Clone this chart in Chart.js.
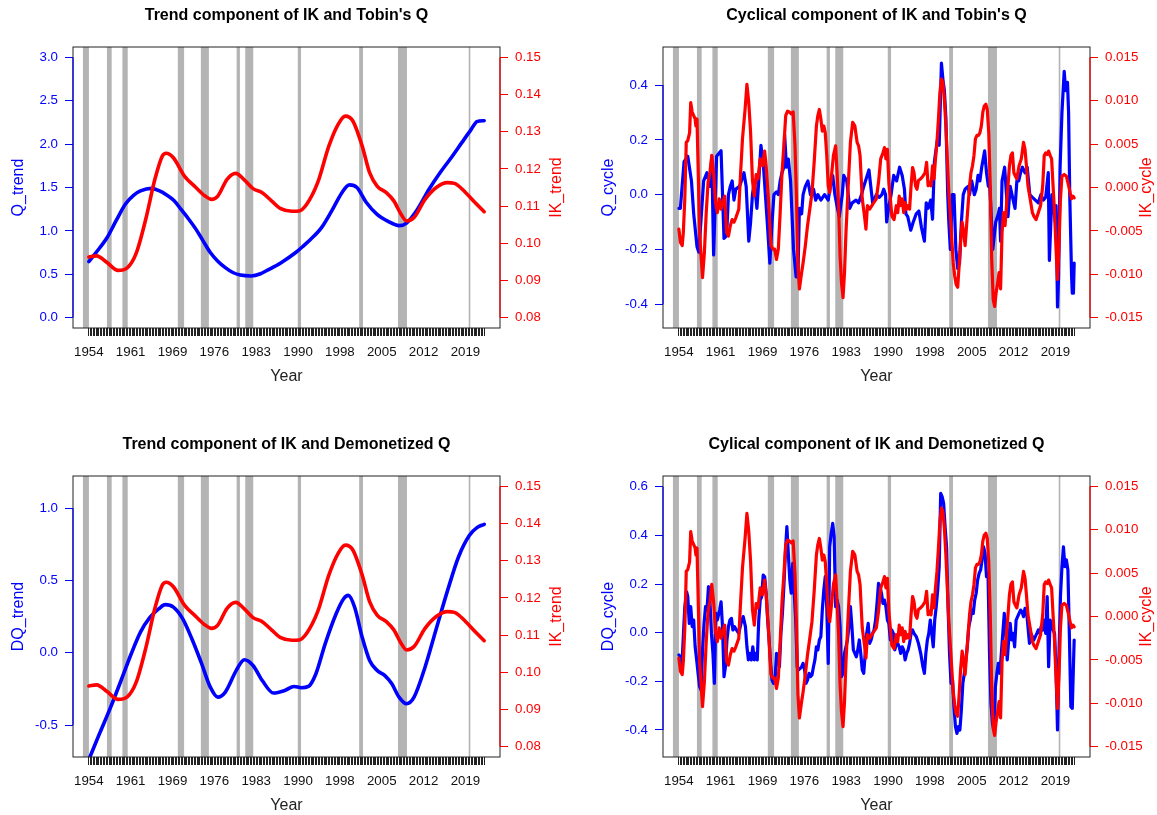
<!DOCTYPE html>
<html><head><meta charset="utf-8">
<script src="https://cdn.jsdelivr.net/npm/chart.js@4.4.1/dist/chart.umd.min.js"></script>
<style>
html,body{margin:0;padding:0;background:#fff;}
#wrap{position:relative;width:1157px;height:815px;overflow:hidden;background:#fff;}
#wrap canvas{position:absolute;left:0;top:0;}
</style></head><body><div id="wrap">
<canvas id="c1" width="1157" height="815"></canvas>
<canvas id="c2" width="1157" height="815"></canvas>
<canvas id="c3" width="1157" height="815"></canvas>
<canvas id="c4" width="1157" height="815"></canvas>
</div>
<script>
// ---------- DATA (year, value) ----------
const xTickLabels = ['1954','1961','1969','1976','1983','1990','1998','2005','2012','2019'];
const firstQuarter = 1954.25, lastQuarter = 2022.75;

const recessionStart = [1953.23,1957.39,1960.07,1969.67,1973.66,1979.86,1981.35,1990.45,2001.09,2007.81,2020.07];
const recessionEnd   = [1954.27,1958.21,1960.99,1970.76,1975.05,1980.43,1982.74,1991.02,2001.75,2009.37,2020.35];

const qTrend = [[1954.25,0.645],[1955.5,0.75],[1957.4,0.92],[1959,1.12],[1960.6,1.31],[1962,1.41],[1963.2,1.46],[1965.1,1.49],[1966.5,1.46],[1967.6,1.42],[1969,1.35],[1970.2,1.25],[1971.5,1.14],[1972.8,1.02],[1974,0.89],[1975.3,0.75],[1976.6,0.65],[1977.9,0.576],[1979.2,0.52],[1980.5,0.49],[1982.4,0.48],[1984,0.505],[1985,0.54],[1987.5,0.63],[1990.1,0.75],[1991.5,0.83],[1992.65,0.90],[1994.6,1.04],[1996.5,1.25],[1998.1,1.44],[1999.4,1.53],[2000.7,1.50],[2002.3,1.33],[2004.2,1.19],[2006.1,1.11],[2008,1.06],[2009.3,1.09],[2011.2,1.25],[2013.2,1.48],[2015.1,1.67],[2017,1.84],[2018.9,2.02],[2020.5,2.17],[2021.5,2.26],[2022.75,2.27]];

const ikTrend = [[1954.25,0.0963],[1955.6,0.0966],[1957.4,0.0948],[1959.3,0.0927],[1960.9,0.0934],[1962.5,0.0975],[1964.1,0.1064],[1965.7,0.1172],[1967,0.1235],[1967.65,0.1242],[1968.9,0.123],[1970.85,0.118],[1972.8,0.115],[1974.4,0.1127],[1975.5,0.1118],[1976.6,0.1127],[1978.2,0.1172],[1979.7,0.1188],[1981.1,0.1172],[1982.7,0.1147],[1984.3,0.1136],[1985.9,0.1114],[1987.5,0.1093],[1989.45,0.1086],[1990.7,0.1087],[1992,0.1105],[1993.9,0.1163],[1995.85,0.1262],[1997.45,0.132],[1998.7,0.1342],[2000,0.1329],[2001.6,0.1262],[2002.9,0.119],[2004.2,0.1154],[2005.8,0.1136],[2007.1,0.1114],[2008.35,0.1078],[2009.3,0.106],[2010.6,0.1069],[2012.5,0.1118],[2014.45,0.115],[2016.4,0.1163],[2017.6,0.1161],[2019.55,0.1136],[2021.2,0.1109],[2022.75,0.1085]];

const dqTrend = [[1954.25,-0.74],[1956.1,-0.56],[1958,-0.38],[1959.95,-0.18],[1961.6,-0.007],[1963.2,0.143],[1964.8,0.243],[1966.4,0.305],[1967.5,0.333],[1968.9,0.316],[1970.5,0.236],[1972.1,0.097],[1973.7,-0.065],[1975.3,-0.238],[1976.6,-0.307],[1977.9,-0.272],[1979.8,-0.122],[1981.2,-0.048],[1982.7,-0.088],[1984.3,-0.192],[1986.25,-0.279],[1988.2,-0.261],[1989.8,-0.233],[1991.05,-0.242],[1992.3,-0.233],[1993.6,-0.145],[1995.2,0.062],[1997.1,0.27],[1998.4,0.374],[1999.2,0.397],[2000.3,0.316],[2001.6,0.109],[2002.9,-0.053],[2004.2,-0.122],[2005.5,-0.157],[2006.75,-0.215],[2008,-0.307],[2009.3,-0.353],[2010.6,-0.307],[2012.5,-0.1],[2014.45,0.166],[2016.4,0.43],[2018.3,0.663],[2020.2,0.813],[2021.5,0.866],[2022.75,0.889]];

const qCycle = [[1954.26,-0.05],[1954.52,-0.05],[1955.16,0.12],[1955.8,0.14],[1956.44,0.05],[1956.83,-0.07],[1957.4,-0.19],[1957.72,-0.21],[1958.55,0.05],[1959.13,0.08],[1959.64,0.03],[1959.96,0.14],[1960.28,-0.22],[1960.8,0.14],[1961.57,0.16],[1962.08,-0.16],[1962.53,-0.15],[1962.85,0.0],[1963.17,0.03],[1963.49,0.05],[1963.81,-0.02],[1964.13,0.02],[1964.77,0.03],[1965.09,0.05],[1965.54,0.08],[1965.92,0.03],[1966.37,-0.17],[1966.69,-0.1],[1967.01,0.0],[1967.33,0.05],[1967.78,-0.05],[1968.1,0.05],[1968.48,0.18],[1968.93,0.1],[1969.25,0.0],[1969.57,-0.1],[1970.02,-0.25],[1970.41,-0.1],[1970.73,0.0],[1971.17,0.01],[1971.49,0.0],[1971.81,0.05],[1972.13,0.08],[1972.45,0.1],[1972.58,0.22],[1972.9,0.1],[1973.22,0.13],[1973.61,0.05],[1974.12,-0.2],[1974.57,-0.3],[1974.89,-0.3],[1975.14,-0.05],[1975.53,-0.07],[1975.78,0.0],[1976.17,0.03],[1976.62,0.05],[1977.06,0.0],[1977.58,0.02],[1977.96,-0.02],[1978.34,0.0],[1978.86,-0.02],[1979.5,0.0],[1980.14,-0.02],[1980.65,0.05],[1980.91,0.07],[1981.29,0.0],[1981.74,-0.05],[1982.06,-0.08],[1982.57,0.0],[1982.83,0.07],[1983.34,0.05],[1983.86,-0.05],[1984.3,-0.03],[1984.95,-0.02],[1985.4,-0.03],[1985.91,0.0],[1986.29,0.03],[1987.19,0.09],[1987.51,0.03],[1987.83,-0.03],[1988.47,0.0],[1988.98,-0.01],[1989.43,0.0],[1989.75,0.02],[1990.07,0.0],[1990.26,-0.1],[1990.58,-0.05],[1991.03,0.0],[1991.48,0.07],[1991.99,0.05],[1992.5,0.1],[1992.95,0.07],[1993.34,0.02],[1993.59,-0.07],[1993.91,-0.08],[1994.43,-0.13],[1994.87,-0.1],[1995.39,-0.07],[1995.84,-0.06],[1996.29,-0.12],[1996.8,-0.17],[1997.12,-0.03],[1997.44,-0.05],[1997.89,-0.02],[1998.21,-0.09],[1998.53,0.12],[1999.04,0.2],[1999.36,0.18],[1999.75,0.48],[2000.01,0.42],[2000.26,0.38],[2000.52,0.28],[2000.84,0.0],[2001.03,-0.1],[2001.29,-0.2],[2001.61,0.0],[2001.93,0.0],[2002.25,-0.2],[2002.57,-0.27],[2002.89,-0.25],[2003.21,-0.1],[2003.53,0.0],[2003.85,0.02],[2004.36,0.03],[2004.62,0.0],[2005.0,0.05],[2005.45,0.0],[2005.77,0.02],[2006.09,0.07],[2006.41,0.05],[2006.73,0.1],[2007.24,0.16],[2007.56,0.08],[2007.88,0.03],[2008.14,0.03],[2008.65,-0.2],[2009.16,-0.1],[2009.61,-0.07],[2009.8,-0.05],[2010.0,-0.17],[2010.25,0.05],[2010.7,0.1],[2011.02,0.0],[2011.28,-0.08],[2011.66,0.03],[2012.18,-0.02],[2012.5,-0.05],[2012.82,0.05],[2013.14,0.05],[2013.46,0.08],[2013.78,0.1],[2014.23,0.08],[2014.61,0.1],[2015.06,0.0],[2015.51,-0.01],[2016.02,-0.02],[2016.53,-0.03],[2016.98,0.0],[2017.43,-0.02],[2017.81,-0.01],[2018.26,0.08],[2018.45,-0.24],[2018.9,0.0],[2019.22,-0.05],[2019.48,-0.1],[2019.61,-0.04],[2019.86,-0.41],[2020.05,-0.3],[2020.31,0.1],[2020.63,0.3],[2021.02,0.45],[2021.27,0.38],[2021.59,0.41],[2021.78,0.3],[2021.98,0.0],[2022.3,-0.3],[2022.42,-0.36],[2022.62,-0.36],[2022.75,-0.25]];

const ikCycle = [[1954.26,-0.0048],[1954.52,-0.0063],[1954.84,-0.0067],[1955.03,-0.0052],[1955.29,-0.0013],[1955.54,0.0052],[1955.8,0.0054],[1956.12,0.0063],[1956.31,0.0098],[1956.57,0.0087],[1956.83,0.0083],[1957.08,0.0079],[1957.21,0.0071],[1957.4,0.0079],[1957.59,0.0025],[1957.85,-0.0052],[1958.11,-0.0079],[1958.36,-0.0104],[1958.68,-0.0075],[1959.0,-0.0029],[1959.32,0.0006],[1959.64,0.0017],[1959.96,0.0037],[1960.28,0.0017],[1960.6,-0.0017],[1960.93,-0.0029],[1961.25,-0.0013],[1961.57,-0.0025],[1961.89,-0.0017],[1962.21,-0.001],[1962.53,-0.0052],[1962.85,-0.0056],[1963.17,-0.0044],[1963.49,-0.0037],[1963.81,-0.004],[1964.13,-0.0035],[1964.64,-0.0025],[1964.9,0.001],[1965.28,0.0056],[1965.73,0.009],[1966.05,0.0119],[1966.37,0.0098],[1966.69,0.0063],[1967.01,0.0008],[1967.33,-0.001],[1967.65,0.0015],[1967.97,0.001],[1968.35,0.0033],[1968.74,0.0025],[1969.12,0.0042],[1969.38,0.0025],[1969.77,-0.0013],[1970.21,-0.0067],[1970.53,-0.0071],[1970.85,-0.0071],[1971.17,-0.0083],[1971.49,-0.0071],[1971.81,-0.0029],[1972.13,0.0017],[1972.45,0.0048],[1972.77,0.0083],[1973.09,0.0088],[1973.42,0.0087],[1973.73,0.0085],[1974.06,0.0087],[1974.38,0.0048],[1974.63,-0.001],[1974.89,-0.009],[1975.14,-0.0117],[1975.53,-0.0098],[1975.78,-0.0087],[1976.17,-0.0067],[1976.55,-0.0044],[1976.94,-0.0025],[1977.32,-0.0006],[1977.7,0.0029],[1978.09,0.0071],[1978.34,0.0083],[1978.6,0.009],[1978.86,0.0079],[1979.11,0.0065],[1979.37,0.0071],[1979.62,0.0063],[1979.88,0.0037],[1980.14,0.0002],[1980.39,-0.0006],[1980.65,0.001],[1981.04,0.0037],[1981.42,0.0048],[1981.67,0.0017],[1981.93,-0.0021],[1982.19,-0.0079],[1982.44,-0.011],[1982.7,-0.0127],[1982.96,-0.0098],[1983.21,-0.0052],[1983.6,0.0002],[1983.98,0.0052],[1984.37,0.0075],[1984.75,0.0071],[1985.14,0.0052],[1985.4,0.0048],[1985.65,0.0037],[1986.03,-0.0013],[1986.42,-0.0033],[1986.67,-0.0048],[1986.93,-0.0021],[1987.31,-0.0025],[1987.7,-0.0021],[1988.08,-0.0017],[1988.47,-0.0013],[1988.85,0.0006],[1989.23,0.0033],[1989.62,0.004],[1989.88,0.0046],[1990.13,0.0033],[1990.39,0.0044],[1990.64,0.0006],[1990.9,-0.0013],[1991.16,-0.0033],[1991.54,-0.0037],[1991.93,-0.0021],[1992.18,-0.0029],[1992.44,-0.001],[1992.69,-0.0021],[1992.95,-0.0013],[1993.21,-0.0029],[1993.46,-0.0017],[1993.72,-0.0025],[1993.98,-0.0021],[1994.23,-0.0025],[1994.49,0.0002],[1994.75,0.0023],[1995.0,0.0017],[1995.26,0.0002],[1995.51,-0.0002],[1995.77,0.0008],[1996.16,0.001],[1996.54,0.0013],[1996.92,0.0017],[1997.18,0.0029],[1997.44,0.0002],[1997.69,0.0006],[1997.95,0.0002],[1998.21,0.0025],[1998.46,0.001],[1998.72,0.0033],[1998.98,0.0052],[1999.23,0.0079],[1999.49,0.011],[1999.75,0.0125],[2000.01,0.0121],[2000.26,0.0102],[2000.52,0.0071],[2000.77,0.0033],[2001.03,-0.0006],[2001.29,-0.0033],[2001.54,-0.006],[2001.8,-0.0087],[2002.05,-0.0102],[2002.31,-0.0112],[2002.57,-0.0115],[2002.82,-0.009],[2003.08,-0.006],[2003.34,-0.004],[2003.6,-0.0052],[2003.85,-0.0067],[2004.11,-0.0044],[2004.36,-0.0021],[2004.62,0.0002],[2004.87,0.0017],[2005.13,0.0025],[2005.39,0.0037],[2005.64,0.0056],[2005.9,0.006],[2006.16,0.006],[2006.41,0.0063],[2006.67,0.0071],[2006.92,0.0087],[2007.18,0.0094],[2007.44,0.0096],[2007.69,0.009],[2007.95,0.0063],[2008.21,0.0002],[2008.46,-0.0083],[2008.72,-0.0129],[2008.97,-0.0137],[2009.23,-0.0121],[2009.49,-0.011],[2009.74,-0.0098],[2010.0,-0.0117],[2010.25,-0.0052],[2010.51,-0.0029],[2010.77,-0.0044],[2011.02,-0.0021],[2011.28,0.0002],[2011.53,0.0025],[2011.79,0.0037],[2012.05,0.004],[2012.3,0.0017],[2012.56,0.0013],[2012.82,0.001],[2013.2,0.0025],[2013.59,0.0033],[2013.97,0.0052],[2014.23,0.0044],[2014.48,0.0025],[2014.74,0.0002],[2015.12,-0.0013],[2015.51,-0.0029],[2015.76,-0.0033],[2016.15,-0.0037],[2016.53,-0.0029],[2016.92,-0.0021],[2017.3,0.0002],[2017.56,0.0037],[2017.81,0.004],[2018.07,0.0038],[2018.32,0.0042],[2018.58,0.0037],[2018.84,0.0033],[2019.09,0.0002],[2019.35,-0.0029],[2019.61,-0.0071],[2019.86,-0.0106],[2020.12,-0.0067],[2020.37,-0.0013],[2020.63,0.0013],[2021.02,0.0015],[2021.4,0.0013],[2021.78,0.0002],[2022.04,-0.0006],[2022.3,-0.0013],[2022.55,-0.001],[2022.75,-0.0012]];

const dqCycle = [[1954.26,-0.092],[1954.52,-0.099],[1954.78,-0.14],[1955.03,-0.016],[1955.29,0.107],[1955.61,0.168],[1955.8,0.148],[1956.06,0.038],[1956.31,0.107],[1956.57,0.025],[1956.83,0.052],[1957.08,-0.058],[1957.34,-0.112],[1957.59,-0.167],[1957.85,-0.222],[1958.11,-0.236],[1958.36,-0.071],[1958.62,0.038],[1958.88,0.107],[1959.13,0.093],[1959.39,0.189],[1959.64,0.134],[1959.9,-0.003],[1960.16,-0.085],[1960.41,-0.208],[1960.67,0.079],[1960.93,0.052],[1961.31,0.093],[1961.57,0.127],[1961.82,0.025],[1962.08,-0.181],[1962.33,-0.14],[1962.59,-0.03],[1962.85,0.025],[1963.1,0.052],[1963.36,0.059],[1963.62,0.011],[1963.87,0.025],[1964.26,0.011],[1964.64,-0.003],[1965.02,0.038],[1965.41,0.066],[1965.79,0.025],[1966.05,-0.058],[1966.3,-0.112],[1966.56,-0.085],[1966.82,-0.112],[1967.07,-0.058],[1967.33,-0.112],[1967.59,-0.085],[1967.84,-0.112],[1968.1,0.052],[1968.35,0.134],[1968.61,0.148],[1968.87,0.237],[1969.12,0.23],[1969.38,0.162],[1969.64,0.052],[1969.89,-0.03],[1970.15,-0.126],[1970.4,-0.195],[1970.66,-0.208],[1970.92,-0.195],[1971.17,-0.085],[1971.43,-0.112],[1971.68,-0.14],[1971.94,-0.003],[1972.2,0.079],[1972.45,0.189],[1972.71,0.326],[1972.97,0.436],[1973.22,0.326],[1973.48,0.216],[1973.73,0.162],[1973.99,0.285],[1974.25,0.162],[1974.5,0.052],[1974.76,-0.14],[1975.01,-0.153],[1975.27,-0.147],[1975.53,-0.14],[1975.78,-0.126],[1976.04,-0.153],[1976.29,-0.208],[1976.55,-0.195],[1976.81,-0.167],[1977.06,-0.181],[1977.32,-0.174],[1977.58,-0.14],[1977.83,-0.112],[1978.09,-0.058],[1978.34,-0.071],[1978.6,-0.03],[1978.86,-0.016],[1979.11,0.093],[1979.37,0.175],[1979.62,0.23],[1979.88,0.107],[1980.14,-0.126],[1980.39,0.353],[1980.65,0.408],[1980.91,0.449],[1981.16,0.395],[1981.42,0.107],[1981.67,0.134],[1981.93,0.107],[1982.19,0.025],[1982.44,-0.181],[1982.7,-0.167],[1982.96,-0.085],[1983.21,-0.058],[1983.47,-0.03],[1983.72,0.025],[1983.98,0.107],[1984.24,0.025],[1984.49,-0.071],[1984.75,-0.085],[1985.01,-0.099],[1985.26,-0.071],[1985.52,-0.03],[1985.77,-0.085],[1986.03,-0.153],[1986.29,-0.167],[1986.54,-0.085],[1986.8,-0.003],[1987.06,0.038],[1987.31,-0.044],[1987.57,-0.03],[1987.83,-0.003],[1988.08,0.011],[1988.34,0.052],[1988.59,0.12],[1988.85,0.203],[1989.11,0.189],[1989.36,0.162],[1989.62,0.12],[1989.88,0.134],[1990.13,0.107],[1990.39,0.052],[1990.64,0.038],[1990.9,-0.03],[1991.16,0.011],[1991.41,-0.003],[1991.67,-0.071],[1991.93,-0.044],[1992.18,-0.044],[1992.44,-0.058],[1992.69,-0.085],[1992.95,-0.058],[1993.21,-0.071],[1993.46,-0.112],[1993.72,-0.085],[1993.98,-0.071],[1994.23,-0.044],[1994.49,-0.003],[1994.75,0.011],[1995.0,-0.003],[1995.39,-0.016],[1995.77,-0.044],[1996.16,-0.085],[1996.54,-0.14],[1996.8,-0.167],[1997.05,-0.085],[1997.31,-0.03],[1997.56,-0.003],[1997.82,0.052],[1998.08,-0.003],[1998.33,-0.058],[1998.59,0.052],[1998.85,0.107],[1999.1,0.175],[1999.36,0.271],[1999.62,0.573],[1999.87,0.559],[2000.13,0.532],[2000.38,0.436],[2000.64,0.353],[2000.9,0.107],[2001.15,-0.085],[2001.41,-0.208],[2001.67,-0.195],[2001.92,-0.304],[2002.18,-0.386],[2002.44,-0.414],[2002.69,-0.386],[2002.95,-0.4],[2003.2,-0.318],[2003.46,-0.208],[2003.72,-0.167],[2003.97,-0.112],[2004.23,-0.058],[2004.49,0.025],[2004.74,0.052],[2005.0,0.093],[2005.26,0.079],[2005.51,0.134],[2005.77,0.162],[2006.02,0.216],[2006.28,0.244],[2006.54,0.258],[2006.79,0.299],[2007.05,0.353],[2007.31,0.326],[2007.56,0.23],[2007.82,0.244],[2008.08,-0.085],[2008.33,-0.29],[2008.59,-0.373],[2008.84,-0.4],[2009.1,-0.222],[2009.36,-0.167],[2009.61,-0.126],[2009.87,-0.167],[2010.13,-0.085],[2010.38,-0.003],[2010.64,0.079],[2010.9,-0.003],[2011.15,-0.112],[2011.41,-0.03],[2011.66,0.038],[2011.92,-0.03],[2012.18,-0.003],[2012.43,-0.058],[2012.69,0.052],[2012.95,0.066],[2013.2,0.079],[2013.46,0.093],[2013.71,0.086],[2013.97,0.066],[2014.23,0.1],[2014.48,0.093],[2014.74,0.025],[2015.0,-0.044],[2015.25,-0.003],[2015.51,-0.016],[2015.76,-0.03],[2016.02,-0.016],[2016.28,-0.003],[2016.53,0.011],[2016.79,-0.003],[2017.04,0.025],[2017.3,0.011],[2017.56,0.052],[2017.81,-0.003],[2018.07,0.148],[2018.32,-0.14],[2018.58,0.052],[2018.84,0.038],[2019.09,0.011],[2019.35,-0.003],[2019.61,-0.153],[2019.86,-0.4],[2020.12,-0.085],[2020.37,0.148],[2020.63,0.271],[2020.89,0.353],[2021.14,0.271],[2021.4,0.299],[2021.66,0.258],[2021.91,-0.003],[2022.17,-0.304],[2022.42,-0.311],[2022.68,-0.085],[2022.75,-0.03]];

const ticksQTrend  = [0, 0.5, 1, 1.5, 2, 2.5, 3];
const ticksIKTrend = [0.08, 0.09, 0.10, 0.11, 0.12, 0.13, 0.14, 0.15];
const ticksQCycle  = [-0.4, -0.2, 0, 0.2, 0.4];
const ticksIKCycle = [-0.015, -0.010, -0.005, 0, 0.005, 0.010, 0.015];
const ticksDQTrend = [-0.5, 0, 0.5, 1.0];
const ticksDQCycle = [-0.4, -0.2, 0, 0.2, 0.4, 0.6];

// ---------- RENDERING ----------
const BLUE = '#0000FF', RED = '#FF0000';
const FONT = "'Liberation Sans', Arial, Helvetica, sans-serif";
const W = 1157, H = 815;
const pad = (x0, x1) => 0.04 * (x1 - x0);
const xMin = firstQuarter - pad(firstQuarter, lastQuarter);
const xMax = lastQuarter + pad(firstQuarter, lastQuarter);
const quarterTicks = [];
for (let v = firstQuarter; v <= lastQuarter + 1e-9; v += 0.25) quarterTicks.push(+v.toFixed(2));
const LABEL_EVERY = 29;

const toXY = arr => arr.map(p => ({x: p[0], y: p[1]}));

const decorPlugin = {
  id: 'decor',
  beforeDatasetsDraw(chart) {
    const {ctx, chartArea: a, scales: {x}} = chart;
    ctx.save();
    ctx.beginPath(); ctx.rect(a.left, a.top, a.right - a.left, a.bottom - a.top); ctx.clip();
    ctx.fillStyle = '#B4B4B4';
    recessionStart.forEach((s, i) => {
      const x0 = x.getPixelForValue(s), x1 = x.getPixelForValue(recessionEnd[i]);
      ctx.fillRect(x0, a.top, x1 - x0, a.bottom - a.top);
    });
    ctx.restore();
  },
  afterDraw(chart, args, o) {
    const {ctx, chartArea: a, scales} = chart;
    ctx.save();
    ctx.strokeStyle = '#222'; ctx.lineWidth = 1;
    ctx.strokeRect(a.left, a.top, a.right - a.left, a.bottom - a.top);
    const yl = scales.yL, yr = scales.yR;
    ctx.lineWidth = 1.2;
    ctx.strokeStyle = BLUE; ctx.beginPath();
    ctx.moveTo(a.left, yl.getPixelForValue(o.leftTicks[0])); ctx.lineTo(a.left, yl.getPixelForValue(o.leftTicks[o.leftTicks.length - 1])); ctx.stroke();
    ctx.strokeStyle = RED; ctx.beginPath();
    ctx.moveTo(a.right, yr.getPixelForValue(o.rightTicks[0])); ctx.lineTo(a.right, yr.getPixelForValue(o.rightTicks[o.rightTicks.length - 1])); ctx.stroke();
    const cx = (a.left + a.right) / 2, cy = (a.top + a.bottom) / 2;
    ctx.textAlign = 'center'; ctx.textBaseline = 'middle';
    ctx.fillStyle = '#000'; ctx.font = 'bold 16px ' + FONT;
    ctx.fillText(o.title, cx, a.top - 31);
    ctx.font = '16px ' + FONT; ctx.fillStyle = '#222';
    ctx.fillText('Year', cx, a.bottom + 49);
    ctx.save(); ctx.translate(a.left - 54.5, cy); ctx.rotate(-Math.PI / 2);
    ctx.fillStyle = BLUE; ctx.fillText(o.leftTitle, 0, 0); ctx.restore();
    ctx.save(); ctx.translate(a.right + 56.5, cy); ctx.rotate(-Math.PI / 2);
    ctx.fillStyle = RED; ctx.fillText(o.rightTitle, 0, 0); ctx.restore();
    ctx.restore();
  }
};

function makePanel(id, p) {
  const fmt = d => v => Number(v).toFixed(d);
  const yAxis = (pos, color, range, ticks, dec) => ({
    type: 'linear', position: pos, min: range[0], max: range[1],
    afterBuildTicks: s => { s.ticks = ticks.map(v => ({value: v})); },
    afterFit: s => { s.width = 60; },
    ticks: {color, padding: 7, font: {family: FONT, size: 13.3}, callback: fmt(dec), autoSkip: false},
    grid: {drawOnChartArea: false, drawTicks: true, tickLength: 8, color, lineWidth: 1},
    border: {display: false}
  });
  const ds = (arr, axis, color) => ({data: toXY(arr), yAxisID: axis, borderColor: color, borderWidth: p.lw,
    pointRadius: 0, cubicInterpolationMode: p.smooth ? 'monotone' : 'default', tension: 0, fill: false, clip: 0,
    borderJoinStyle: 'round', borderCapStyle: 'round'});
  new Chart(document.getElementById(id), {
    type: 'line',
    data: {datasets: [ds(p.red, 'yR', RED), ds(p.blue, 'yL', BLUE)]},
    options: {
      responsive: false, animation: false, events: [],
      layout: {padding: {left: p.box[0] - 60, top: p.box[1], right: W - p.box[2] - 60, bottom: H - p.box[3] - 40}},
      plugins: {legend: {display: false}, tooltip: {enabled: false}, title: {display: false},
        decor: {title: p.title, leftTitle: p.leftTitle, rightTitle: p.rightTitle, leftTicks: p.lt, rightTicks: p.rt}},
      scales: {
        x: {
          type: 'linear', position: 'bottom', min: xMin, max: xMax,
          afterBuildTicks: s => { s.ticks = quarterTicks.map(v => ({value: v})); },
          afterFit: s => { s.height = 40; },
          ticks: {autoSkip: false, maxRotation: 0, minRotation: 0, padding: 8, color: '#111',
            font: {family: FONT, size: 13.3},
            callback: (v, i) => (i % LABEL_EVERY === 0 && xTickLabels[i / LABEL_EVERY]) ? xTickLabels[i / LABEL_EVERY] : ''},
          grid: {drawOnChartArea: false, drawTicks: true, tickLength: 8, color: '#222', lineWidth: 1},
          border: {display: false}
        },
        yL: yAxis('left', BLUE, p.yl, p.lt, p.ld),
        yR: yAxis('right', RED, p.yr, p.rt, p.rd)
      }
    },
    plugins: [decorPlugin]
  });
}

makePanel('c1', {box: [73, 47, 500, 328], title: "Trend component of IK and Tobin's Q",
  leftTitle: 'Q_trend', rightTitle: 'IK_trend', blue: qTrend, red: ikTrend, smooth: true, lw: 3.6,
  yl: [-0.12, 3.12], lt: ticksQTrend, ld: 1, yr: [0.0772, 0.1528], rt: ticksIKTrend, rd: 2});
makePanel('c2', {box: [663, 47, 1090, 328], title: "Cyclical component of IK and Tobin's Q",
  leftTitle: 'Q_cycle', rightTitle: 'IK_cycle', blue: qCycle, red: ikCycle, smooth: false, lw: 3.2,
  yl: [-0.487, 0.539], lt: ticksQCycle, ld: 1, yr: [-0.0162, 0.0162], rt: ticksIKCycle, rd: 3});
makePanel('c3', {box: [73, 476, 500, 757], title: 'Trend component of IK and Demonetized Q',
  leftTitle: 'DQ_trend', rightTitle: 'IK_trend', blue: dqTrend, red: ikTrend, smooth: true, lw: 3.6,
  yl: [-0.7215, 1.2236], lt: ticksDQTrend, ld: 1, yr: [0.0772, 0.1528], rt: ticksIKTrend, rd: 2});
makePanel('c4', {box: [663, 476, 1090, 757], title: 'Cylical component of IK and Demonetized Q',
  leftTitle: 'DQ_cycle', rightTitle: 'IK_cycle', blue: dqCycle, red: ikCycle, smooth: false, lw: 3.2,
  yl: [-0.511, 0.644], lt: ticksDQCycle, ld: 1, yr: [-0.0162, 0.0162], rt: ticksIKCycle, rd: 3});
</script></body></html>
